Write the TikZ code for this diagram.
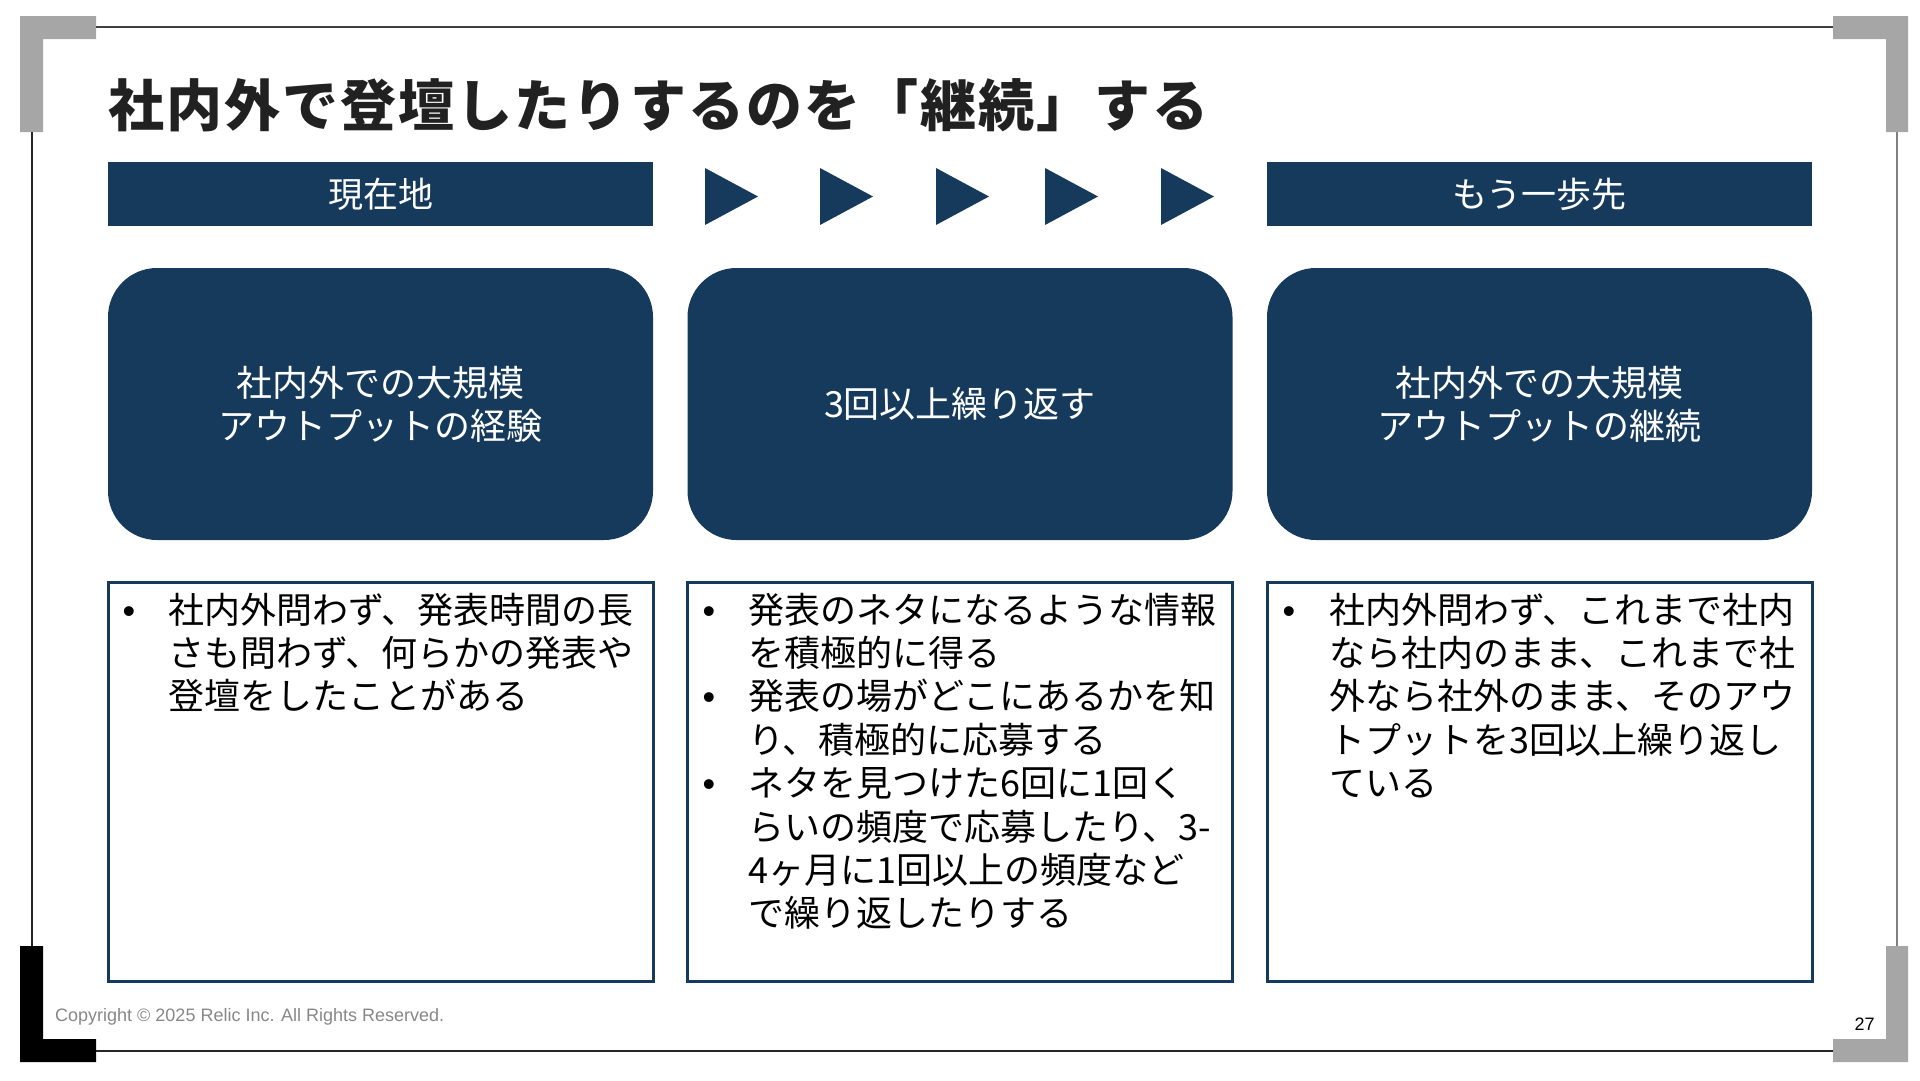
\documentclass[tikz,border=0pt]{standalone}
\usepackage{fontspec}
\setmainfont{Noto Sans CJK JP}
\newfontfamily\latinfont{Liberation Sans}
\definecolor{navy}{RGB}{22,58,92}
\definecolor{framegray}{RGB}{166,166,166}
\begin{document}
\begin{tikzpicture}[x=1pt,y=-1pt,
  headbar/.style={fill=navy,text=white,minimum width=545pt,minimum height=64pt,inner sep=0pt,font=\fontsize{35}{42}\selectfont},
  card/.style={fill=navy,text=white,rounded corners=49pt,minimum width=545pt,minimum height=272pt,align=center,font=\fontsize{36}{43}\selectfont},
  notebox/.style={draw=navy,line width=3pt,minimum width=545pt,minimum height=399pt},
  dot/.style={anchor=base,inner sep=0pt,font=\latinfont\fontsize{36}{43.4}\selectfont},
  itemtext/.style={anchor=base west,inner sep=0pt,align=left,font=\fontsize{36}{43.4}\selectfont}]
  \useasboundingbox (0,0) rectangle (1920,1080);
  \fill[framegray] (20,16) -- (96,16) -- (96,39) -- (43,39) -- (43,132) -- (20,132) -- cycle;
  \fill[framegray] (1833,16) -- (1908,16) -- (1908,132) -- (1886,132) -- (1886,39) -- (1833,39) -- cycle;
  \fill[black] (20,946) -- (43,946) -- (43,1039) -- (96,1039) -- (96,1062) -- (20,1062) -- cycle;
  \fill[framegray] (1886,946) -- (1908,946) -- (1908,1062) -- (1833,1062) -- (1833,1039) -- (1886,1039) -- cycle;
  \draw[line width=1.5pt,black!75] (96,27) -- (1833,27);
  \draw[line width=1.5pt,black!85] (96,1051) -- (1833,1051);
  \draw[line width=1.5pt,black!85] (32,132) -- (32,946);
  \draw[line width=1.5pt,black!50] (1897,132) -- (1897,946);

  \node[anchor=base west,inner sep=0pt,text=black!87,font=\bfseries\fontsize{56}{60}\selectfont\addfontfeatures{LetterSpace=3.6}] (title) at (108,126) {社内外で登壇したりするのを「継続」する};

  \node[headbar] (here) at (380.5,194) {現在地};
  \node[headbar] (ahead) at (1539.5,194) {もう一歩先};
  \fill[navy] (705,168) -- (758,196.5) -- (705,225) -- cycle;
  \fill[navy] (820,168) -- (873,196.5) -- (820,225) -- cycle;
  \fill[navy] (936,168) -- (989,196.5) -- (936,225) -- cycle;
  \fill[navy] (1045,168) -- (1098,196.5) -- (1045,225) -- cycle;
  \fill[navy] (1161,168) -- (1214,196.5) -- (1161,225) -- cycle;

  \node[card] (exp) at (380.5,404) {社内外での大規模\\アウトプットの経験};
  \node[card] (repeat) at (960,404) {3回以上繰り返す};
  \node[card] (cont) at (1539.5,404) {社内外での大規模\\アウトプットの継続};

  \node[notebox] (expnote) at (380.5,781.5) {};
  \node[notebox] (repeatnote) at (960,781.5) {};
  \node[notebox] (contnote) at (1539.5,781.5) {};

  \node[dot] (expdot) at (129,623) {•};
  \node[itemtext] (exptext) at (168,709.8) {社内外問わず、発表時間の長\\さも問わず、何らかの発表や\\登壇をしたことがある};
  \node[dot] (repeatdota) at (709,623) {•};
  \node[itemtext] (repeattexta) at (748,666.4) {発表のネタになるような情報\\を積極的に得る};
  \node[dot] (repeatdotb) at (709,709.8) {•};
  \node[itemtext] (repeattextb) at (748,753.2) {発表の場がどこにあるかを知\\り、積極的に応募する};
  \node[dot] (repeatdotc) at (709,796.6) {•};
  \node[itemtext] (repeattextc) at (748,926.8) {ネタを見つけた6回に1回く\\らいの頻度で応募したり、3-\\4ヶ月に1回以上の頻度など\\で繰り返したりする};
  \node[dot] (contdot) at (1289,623) {•};
  \node[itemtext] (conttext) at (1329,796.6) {社内外問わず、これまで社内\\なら社内のまま、これまで社\\外なら社外のまま、そのアウ\\トプットを3回以上繰り返し\\ている};

  \node[anchor=west,inner sep=0pt,text=black!47,font=\latinfont\fontsize{18}{20}\selectfont] (copy) at (55,1017) {Copyright © 2025 Relic Inc. All Rights Reserved.};
  \node[inner sep=0pt,font=\latinfont\fontsize{18}{20}\selectfont] (page) at (1864.5,1024) {27};
\end{tikzpicture}
\end{document}
